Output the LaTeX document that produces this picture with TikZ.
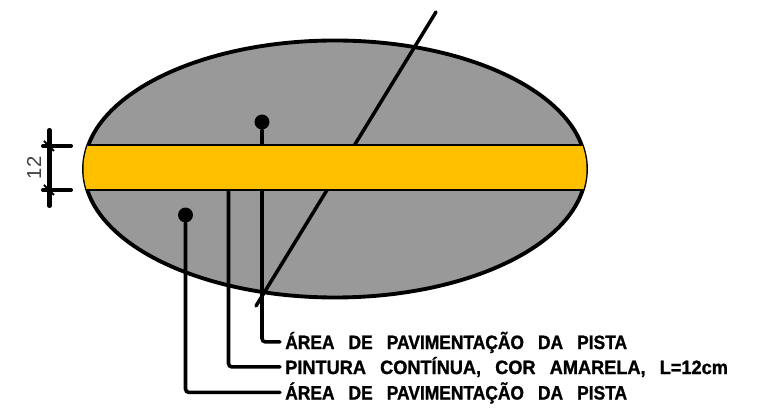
\documentclass[tikz,border=0pt]{standalone}
\usepackage{fontspec}
\setmainfont{Liberation Sans}
\newfontfamily\notefont[WordSpace=2.9,FakeStretch=0.9,FakeBold=1.2]{Liberation Sans Bold}
\newfontfamily\bandfont[WordSpace=2.8,FakeStretch=0.94,FakeBold=1.2]{Liberation Sans Bold}
\definecolor{pavegray}{RGB}{153,153,153}
\definecolor{bandyellow}{RGB}{255,192,0}
\tikzset{
	leader/.style={line width=2pt, line cap=round, rounded corners=2pt},
	marker/.style={circle, fill=black, minimum size=8.5pt, inner sep=0pt},
	note/.style={anchor=west, inner xsep=2.8pt, inner ysep=0pt, text height=8pt, text depth=0pt},
	dimline/.style={line width=2.3pt, line cap=round}
}
\begin{document}
\begin{tikzpicture}[scale=0.2]
	\useasboundingbox (0,0) rectangle (76.3,-41.1);
	\fill [pavegray] (33.5,-16.9) ellipse (25.1 and 12.85);
	\draw [black, line width=2.2pt] (33.5,-16.9) ellipse (25.1 and 12.85);
	% labels and markers
	\node [marker] (dotTop) at (26.2,-12.2) {};
	\node [marker] (dotBottom) at (18.55,-21.5) {};
	\coordinate (bandEdge) at (22.85,-19);
	\node [note, font=\notefont\fontsize{11}{13}\selectfont] (labelTop) at (28,-34.2) {ÁREA DE PAVIMENTAÇÃO DA PISTA};
	\node [note, font=\bandfont\fontsize{11}{13}\selectfont] (labelBand) at (28,-36.7) {PINTURA CONTÍNUA, COR AMARELA, L=12cm};
	\node [note, font=\notefont\fontsize{11}{13}\selectfont] (labelBottom) at (28,-39.25) {ÁREA DE PAVIMENTAÇÃO DA PISTA};
	\draw [leader] (dotTop) |- (labelTop);
	\draw [leader] (bandEdge) |- (labelBand);
	\draw [leader] (dotBottom) |- (labelBottom);
	% break line
	\coordinate (breakTop) at (43.6,-1.2);
	\coordinate (breakBottom) at (25.6,-30.6);
	\draw [line width=2pt, line cap=round] (breakTop) -- (breakBottom);
	% yellow strip
	\begin{scope}
		\clip (33.5,-16.9) ellipse (25.15 and 12.95);
		\draw [black, fill=bandyellow, line width=0.8pt] (7,-14.5) rectangle (60,-19);
	\end{scope}
	% dimension
	\coordinate (dimTop) at (4.95,-13);
	\coordinate (dimBottom) at (4.95,-20.6);
	\coordinate (tickTopL) at (4.3,-14.6);
	\coordinate (tickTopR) at (7.1,-14.6);
	\coordinate (tickBotL) at (4.3,-19);
	\coordinate (tickBotR) at (7.1,-19);
	\coordinate (slashTopA) at (4.4,-14.1);
	\coordinate (slashTopB) at (5.4,-15.1);
	\coordinate (slashBotA) at (4.4,-18.5);
	\coordinate (slashBotB) at (5.4,-19.5);
	\draw [dimline] (dimTop) -- (dimBottom);
	\draw [dimline] (tickTopL) -- (tickTopR);
	\draw [dimline] (tickBotL) -- (tickBotR);
	\draw [line width=1.2pt] (slashTopA) -- (slashTopB);
	\draw [line width=1.2pt] (slashBotA) -- (slashBotB);
	\node [rotate=90, inner sep=0pt, text=black!75, font=\fontsize{11.5}{13}\selectfont] (dimText) at (3.4,-16.8) {12};
\end{tikzpicture}
\end{document}
